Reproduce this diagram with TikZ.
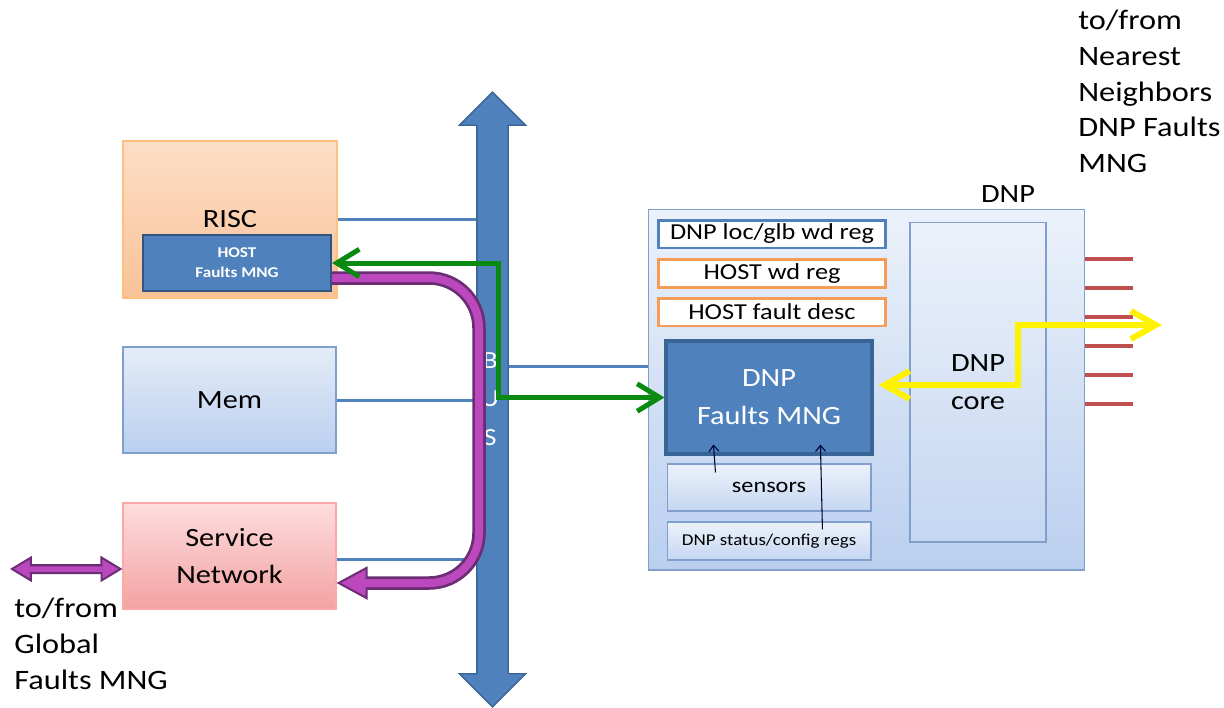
\documentclass[tikz,border=0pt]{standalone}
\usepackage{fontspec}
\setmainfont{Carlito}[FakeStretch=1.15]
\usetikzlibrary{arrows.meta,shapes.arrows,backgrounds}

\definecolor{busblue}{HTML}{4F81BD}
\definecolor{busedge}{HTML}{3A6496}
\definecolor{pfill}{HTML}{BC48BE}
\definecolor{pdark}{HTML}{6B2D73}
\definecolor{fgreen}{HTML}{0B8A12}
\definecolor{portred}{HTML}{C0504D}
\definecolor{regorange}{HTML}{F59D56}
\definecolor{ltop}{HTML}{E4ECF8}
\definecolor{lbot}{HTML}{BACFEF}
\definecolor{ledge}{HTML}{819FCB}
\definecolor{otop}{HTML}{FCDEC6}
\definecolor{obot}{HTML}{F9C298}
\definecolor{rtop}{HTML}{FDDDDD}
\definecolor{rbot}{HTML}{F3A2A2}

\newcommand\lblfont{\fontsize{15}{21.5}\selectfont}
\newcommand\sidefont{\fontsize{16}{20.3}\selectfont}

\tikzset{
  box/.style={rectangle, inner sep=0pt, align=center, line width=0.6pt},
  riscbox/.style={box, top color=otop, bottom color=obot, draw=orange!50!white},
  membox/.style={box, top color=ltop, bottom color=lbot, draw=ledge},
  svcbox/.style={box, top color=rtop, bottom color=rbot, draw=red!35!white},
  dnpbox/.style={box, top color=ltop!70!white, bottom color=lbot, draw=ledge},
  subbox/.style={box, top color=ltop!70!white, bottom color=lbot!85!white, draw=ledge},
  hostbox/.style={box, fill=busblue, draw=busedge!85!black, line width=1.2pt, text=white,
    font=\bfseries\fontsize{8.5}{11.3}\selectfont},
  fmngbox/.style={box, fill=busblue, draw=busedge, line width=1.8pt, text=white, font=\lblfont},
  regbox/.style={box, fill=white, line width=1.7pt, minimum width=4.56cm, minimum height=0.56cm,
    font=\fontsize{13}{14}\selectfont},
  busarrow/.style={double arrow, rotate=90, fill=busblue, draw=busedge, line width=0.8pt,
    minimum height=12.3cm, text height=0.6cm, text depth=0pt, double arrow head extend=0.35cm, inner sep=0pt},
  busline/.style={draw=busblue, line width=0.06cm},
  portline/.style={draw=portred, line width=0.08cm},
  purtip/.tip={Triangle[length=0.62cm,width=0.66cm,line width=0.04cm,fill=pfill]},
  smalltip/.tip={Triangle[length=0.44cm,width=0.52cm,line width=0.04cm,fill=pfill]},
  greenarr/.style={draw=fgreen, line width=0.1cm,
    {Straight Barb[length=0.45cm,width=0.55cm]}-{Straight Barb[length=0.45cm,width=0.55cm]}},
  yelarr/.style={draw=yellow, line width=0.12cm,
    {Straight Barb[length=0.5cm,width=0.56cm]}-{Straight Barb[length=0.5cm,width=0.56cm]}},
  thinarr/.style={draw=black!80!blue, line width=0.6pt, -{Straight Barb[length=0.12cm,width=0.2cm]}},
}

\begin{document}
\begin{tikzpicture}[x=0.02cm, y=-0.02cm]
  \useasboundingbox (0,0) rectangle (1224,707);

  % left side blocks
  \node[riscbox, minimum width=4.28cm, minimum height=3.14cm, font=\lblfont] (risc) at (230,219.5) {RISC};
  \node[hostbox, minimum width=3.76cm, minimum height=1.12cm] (host) at (237,263) {HOST\\Faults MNG};
  \node[membox, minimum width=4.26cm, minimum height=2.12cm, font=\lblfont] (mem) at (229.5,400) {Mem};
  \node[svcbox, minimum width=4.26cm, minimum height=2.12cm, font=\lblfont] (svc) at (229.5,556) {Service\\Network};

  % bus
  \node[busarrow] (bus) at (492.5,399.5) {};
  \node[text=white, align=center, font=\fontsize{14}{22}\selectfont, inner sep=0pt] (buslab) at (490,399) {B\\U\\S};

  % DNP
  \node[dnpbox, minimum width=8.74cm, minimum height=7.22cm] (dnp) at (866.5,389.5) {};
  \node[font=\lblfont, inner sep=0pt] (dnplab) at (1008,194) {DNP};
  \node[regbox, draw=busblue] (locreg) at (772,234) {DNP loc/glb wd reg};
  \node[regbox, draw=regorange] (hwdreg) at (772,273.5) {HOST wd reg};
  \node[regbox, draw=regorange] (hfdesc) at (772,312) {HOST fault desc};
  \node[fmngbox, minimum width=4.12cm, minimum height=2.26cm] (dnpf) at (769,397.5) {DNP\\Faults MNG};
  \node[subbox, minimum width=4.08cm, minimum height=0.94cm, font=\fontsize{12}{14}\selectfont] (sensors) at (769,487.5) {sensors};
  \node[subbox, minimum width=4.08cm, minimum height=0.76cm, font=\fontsize{9.4}{10}\selectfont] (stregs) at (769,541) {DNP status/config regs};
  \node[subbox, minimum width=2.72cm, minimum height=6.4cm, font=\lblfont] (core) at (978,382) {DNP\\core};

  % outside texts
  \node[anchor=north west, align=left, font=\sidefont, inner sep=0pt] (nbrtxt) at (1078,10) {to/from\\Nearest\\Neighbors\\DNP Faults\\MNG};
  \node[anchor=north west, align=left, font=\sidefont, inner sep=0pt] (globtxt) at (14,598) {to/from\\Global\\Faults MNG};
  \coordinate (glob) at (10,569);
  \coordinate (nbr) at (1162,325);

  \begin{scope}[on background layer]
    \draw[busline] (risc.east) -- (risc.east -| bus.center);
    \draw[busline] (mem.east) -- (mem.east -| bus.center);
    \draw[busline] ([yshift=-0.06cm]svc.east) -- ([yshift=-0.06cm]svc.east -| bus.center);
    \draw[busline] ([yshift=0.47cm]dnp.west) -- ([yshift=0.47cm]dnp.west -| bus.center);
  \end{scope}

  \foreach \y in {259,288,317,346,375,404}
    \draw[portline] (dnp.east |- 0,\y) -- ++(48,0);

  % fault paths
  \draw[pdark, line width=0.27cm, -purtip, rounded corners=1cm]
    ([yshift=-0.3cm]host.east) -- (479,278) -- (479,583) -- (svc.east |- 0,583);
  \draw[pfill, line width=0.16cm, rounded corners=1cm, shorten >=0.56cm]
    ([yshift=-0.3cm]host.east) -- (479,278) -- (479,583) -- (svc.east |- 0,583);
  \draw[pdark, line width=0.2cm, smalltip-smalltip] (glob) -- ([yshift=-0.26cm]svc.west);
  \draw[pfill, line width=0.11cm, shorten <=0.4cm, shorten >=0.4cm] (glob) -- ([yshift=-0.26cm]svc.west);

  \draw[greenarr] (host.east) -- (498,263) -- (498,397.5) -- (dnpf.west);
  \draw[yelarr] ([xshift=0.1cm,yshift=0.25cm]dnpf.east) -- (1018,385) -- (1018,325) -- (nbr);

  \draw[thinarr] ([xshift=0.98cm,yshift=-0.18cm]sensors.north west) -- ([xshift=0.98cm,yshift=0.22cm]dnpf.south west);
  \draw[thinarr] ([xshift=3.12cm,yshift=-0.16cm]stregs.north west) -- ([xshift=3.12cm,yshift=0.22cm]dnpf.south west);
\end{tikzpicture}
\end{document}
